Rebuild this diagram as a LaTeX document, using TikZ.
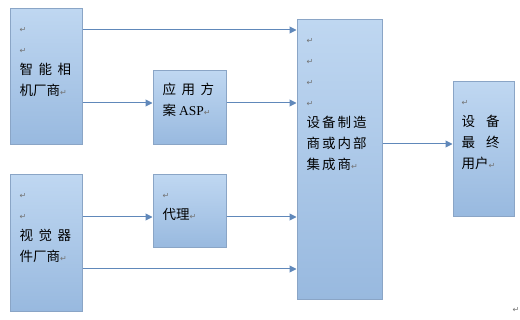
\documentclass[tikz,border=0pt]{standalone}
\usepackage{fontspec}
\setmainfont{Liberation Serif}
\newfontfamily\cjk{Noto Sans CJK SC}
\newfontfamily\symf{DejaVu Sans}
\usepackage{xcolor}
\usetikzlibrary{arrows.meta, positioning}

\definecolor{boxtop}{HTML}{BFD7F1}
\definecolor{boxbot}{HTML}{98B9DF}
\definecolor{boxline}{HTML}{8AA5C6}
\definecolor{arrline}{HTML}{6088BA}
\newcommand{\rt}{\vphantom{\cjk 智}{\symf\fontsize{8pt}{8pt}\selectfont\textcolor{black!55}{↵}}}
\newcommand{\jg}{\hspace{5.5pt}}

\tikzset{
	blk/.style={draw=boxline, line width=1pt, top color=boxtop, bottom color=boxbot,
		inner sep=0pt},
	txt/.style={anchor=north west, align=left, inner sep=0pt,
		font=\cjk\fontsize{13.5pt}{21pt}\selectfont},
	arr/.style={arrline, line width=1pt, -{Triangle[length=7pt,width=7pt]}}
}

\begin{document}
\begin{tikzpicture}[x=1pt,y=1pt]
	\useasboundingbox (0,0) rectangle (520,319);
	
	% 方框
	\node[blk, minimum width=72pt, minimum height=136pt] (cam) at (46,242) {};
	\node[blk, minimum width=73pt, minimum height=74pt] (asp) at (189.5,211) {};
	\node[blk, minimum width=72pt, minimum height=136pt] (vis) at (46,76) {};
	\node[blk, minimum width=73pt, minimum height=73pt] (agt) at (189.5,107.5) {};
	\node[blk, minimum width=85pt, minimum height=280pt] (mfr) at (339.5,159) {};
	\node[blk, minimum width=61pt, minimum height=135pt] (usr) at (483.5,169.5) {};
	
	% 文字
	\node[txt] (camt) at ([xshift=10pt,yshift=-12pt]cam.north west)
		{\rt\\ \rt\\ 智\jg 能\jg 相\\ 机厂商\rt};
	\node[txt] (aspt) at ([xshift=10pt,yshift=-12pt]asp.north west)
		{应\jg 用\jg 方\\ 案 {\rmfamily ASP}\rt};
	\node[txt] (vist) at ([xshift=10pt,yshift=-12pt]vis.north west)
		{\rt\\ \rt\\ 视\jg 觉\jg 器\\ 件厂商\rt};
	\node[txt] (agtt) at ([xshift=10pt,yshift=-12pt]agt.north west)
		{\rt\\ 代理\rt};
	\node[txt] (mfrt) at ([xshift=10pt,yshift=-12pt]mfr.north west)
		{\rt\\ \rt\\ \rt\\ \rt\\ 设\hspace{2pt}备\hspace{2pt}制\hspace{2pt}造\\
		 商\hspace{2pt}或\hspace{2pt}内\hspace{2pt}部\\ 集\hspace{2pt}成\hspace{2pt}商\rt};
	\node[txt] (usrt) at ([xshift=9pt,yshift=-12pt]usr.north west)
		{\rt\\ 设\hspace{11pt}备\\ 最\hspace{11pt}终\\ 用户\rt};
	\node[inner sep=0pt] (endm) at (516,10) {\rt};
	
	% 箭头
	\draw[arr] ([yshift=47pt]cam.east) -- ([yshift=47pt]cam.east -| mfr.west);
	\draw[arr] ([yshift=-26pt]cam.east) -- ([yshift=-26pt]cam.east -| asp.west);
	\draw[arr] ([yshift=5pt]asp.east) -- ([yshift=5pt]asp.east -| mfr.west);
	\draw[arr] ([yshift=26pt]vis.east) -- ([yshift=26pt]vis.east -| agt.west);
	\draw[arr] ([yshift=-5.5pt]agt.east) -- ([yshift=-5.5pt]agt.east -| mfr.west);
	\draw[arr] ([yshift=-26pt]vis.east) -- ([yshift=-26pt]vis.east -| mfr.west);
	\draw[arr] ([yshift=16pt]mfr.east) -- ([yshift=16pt]mfr.east -| usr.west);
\end{tikzpicture}
\end{document}
